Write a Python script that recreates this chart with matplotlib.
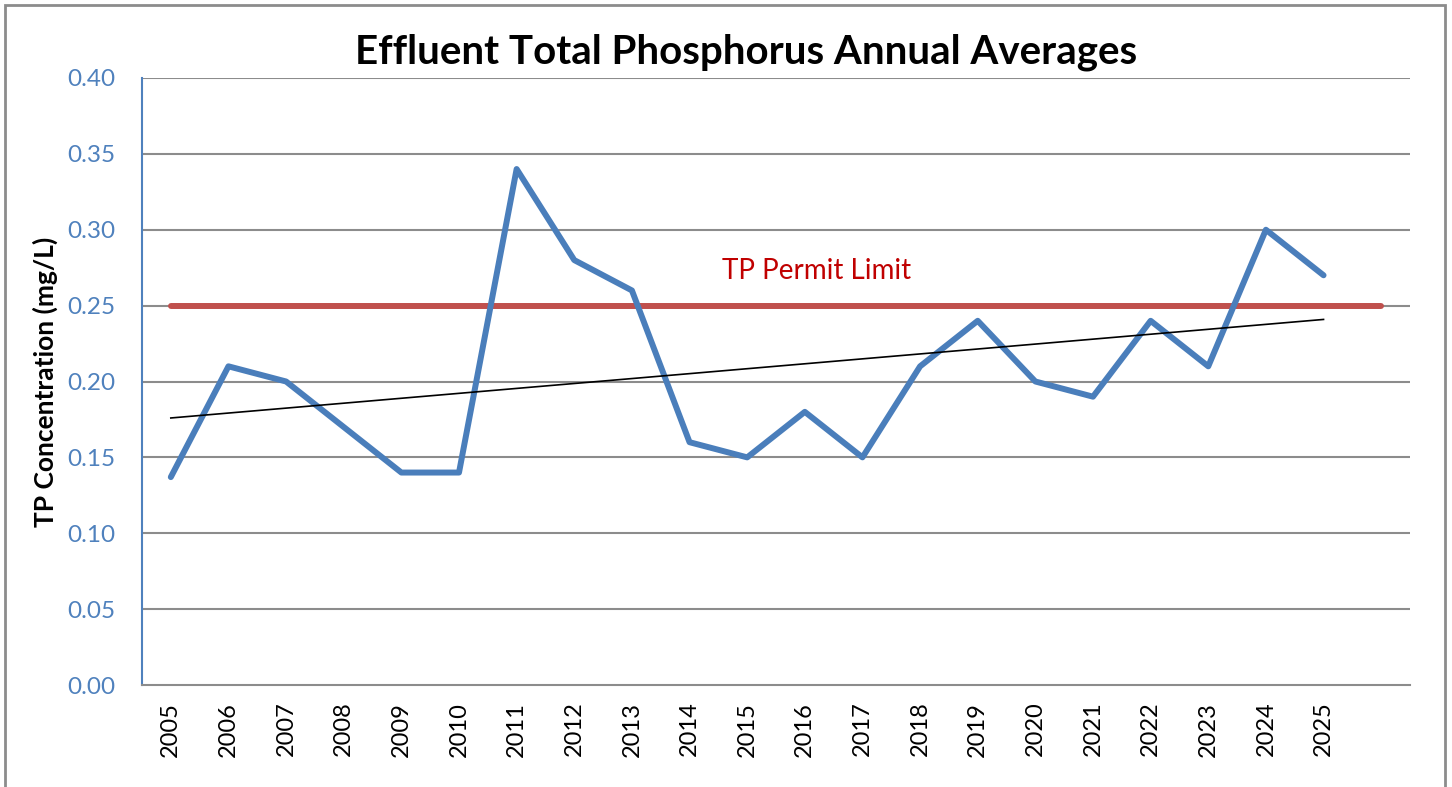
import matplotlib
matplotlib.use("Agg")
import matplotlib.pyplot as plt
import numpy as np
from matplotlib.patches import Rectangle

years = ["2005", "2006", "2007", "2008", "2009", "2010", "2011", "2012", "2013", "2014",
         "2015", "2016", "2017", "2018", "2019", "2020", "2021", "2022", "2023", "2024", "2025", ""]
tp_values = [0.137, 0.21, 0.20, 0.17, 0.14, 0.14, 0.34, 0.28, 0.26, 0.16,
             0.15, 0.18, 0.15, 0.21, 0.24, 0.20, 0.19, 0.24, 0.21, 0.30, 0.27]
permit_limit = 0.25
y_ticks = [0.00, 0.05, 0.10, 0.15, 0.20, 0.25, 0.30, 0.35, 0.40]

plt.rcParams['font.family'] = ['Lato', 'DejaVu Sans']

fig = plt.figure(figsize=(14.52, 7.87), dpi=100)
ax = fig.add_axes([142/1452, 1-685/787, (1410-142)/1452, (685-78)/787])

# figure border
fig.patches.append(Rectangle((5/1452, -0.1), (1445-5)/1452, 1-5/787+0.1,
                             transform=fig.transFigure, fill=False,
                             edgecolor='#8C8C8C', linewidth=2))

x = np.arange(len(years))
xd = x[:len(tp_values)]

ax.set_xlim(-0.5, len(years) - 0.5)
ax.set_ylim(0, 0.40)
ax.set_yticks(y_ticks)
ax.set_yticklabels([f"{v:.2f}" for v in y_ticks])
for v in y_ticks[1:]:
    ax.axhline(v, color='#8C8C8C', linewidth=1.5, zorder=1)

ax.plot(xd, tp_values, color='#4A7EBB', linewidth=4.3, solid_capstyle='round',
        solid_joinstyle='round', zorder=3)
ax.plot([x[0], x[-1]], [permit_limit, permit_limit], color='#C0504D', linewidth=4.3,
        solid_capstyle='round', zorder=2)

coef = np.polyfit(xd, tp_values, 1)
ax.plot([xd[0], xd[-1]], np.polyval(coef, [xd[0], xd[-1]]), color='black',
        linewidth=1.2, zorder=4)

ax.text(11.2, 0.2725, "TP Permit Limit", color='#C00000', fontsize=20,
        ha='center', va='center')

ax.set_xticks(x)
ax.set_xticklabels(years, rotation=90, fontsize=17)
ax.tick_params(axis='x', length=0, pad=12)
ax.tick_params(axis='y', length=0, pad=19, labelcolor='#4F81BD', labelsize=17.5)

for s in ['top', 'right']:
    ax.spines[s].set_visible(False)
ax.spines['left'].set_color('#4F81BD')
ax.spines['left'].set_linewidth(1.5)
ax.spines['bottom'].set_color('#8C8C8C')
ax.spines['bottom'].set_linewidth(1.5)

ax.set_ylabel("TP Concentration (mg/L)", fontsize=19, fontweight='bold', labelpad=7)
fig.text(746/1452, 1-52/787, "Effluent Total Phosphorus Annual Averages",
         fontsize=29, fontweight='bold', ha='center', va='center')

fig.savefig("out.png", dpi=100)
